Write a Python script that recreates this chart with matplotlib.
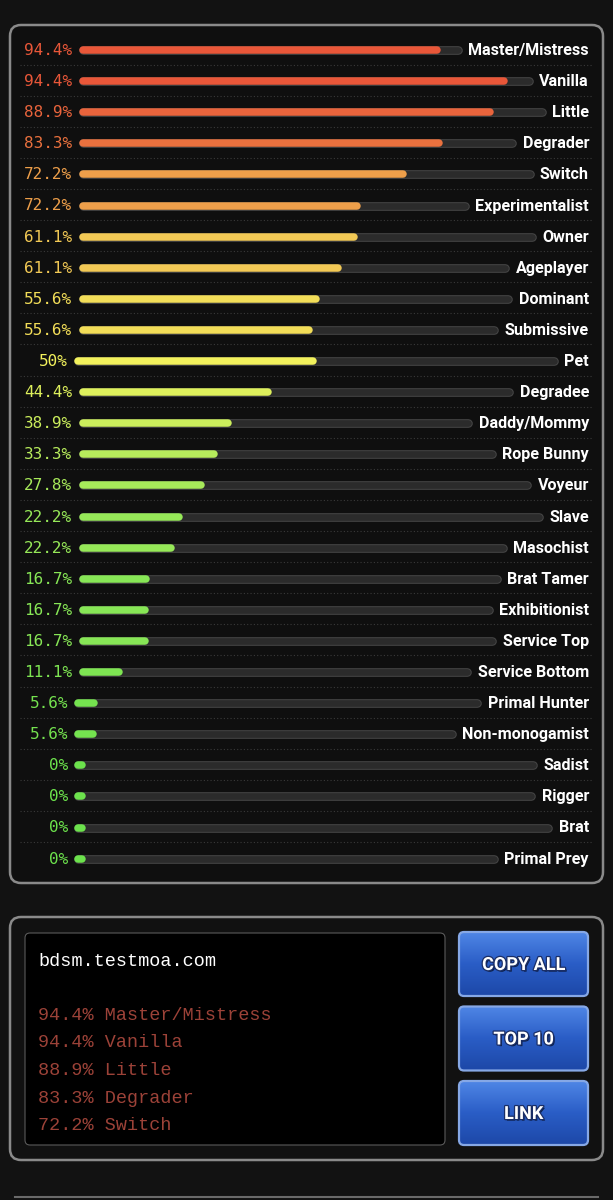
import matplotlib
matplotlib.use('Agg')
import matplotlib.pyplot as plt
import matplotlib.patheffects as pe
from matplotlib.patches import FancyBboxPatch
from matplotlib.colors import LinearSegmentedColormap
import numpy as np

categories = ['Master/Mistress', 'Vanilla', 'Little', 'Degrader', 'Switch',
              'Experimentalist', 'Owner', 'Ageplayer', 'Dominant', 'Submissive',
              'Pet', 'Degradee', 'Daddy/Mommy', 'Rope Bunny', 'Voyeur', 'Slave',
              'Masochist', 'Brat Tamer', 'Exhibitionist', 'Service Top',
              'Service Bottom', 'Primal Hunter', 'Non-monogamist', 'Sadist',
              'Rigger', 'Brat', 'Primal Prey']
percents = [94.4, 94.4, 88.9, 83.3, 72.2, 72.2, 61.1, 61.1, 55.6, 55.6, 50,
            44.4, 38.9, 33.3, 27.8, 22.2, 22.2, 16.7, 16.7, 16.7, 11.1, 5.6,
            5.6, 0, 0, 0, 0]
site = 'bdsm.testmoa.com'
copy_count = 5
buttons = ['COPY ALL', 'TOP 10', 'LINK']

W, H = 613, 1200
score_cmap = LinearSegmentedColormap.from_list('score', [
    (0.0, '#6ce24c'), (0.17, '#88e656'), (0.33, '#b6ec5c'), (0.5, '#f2f25c'),
    (0.56, '#f2dc58'), (0.61, '#f2ca55'), (0.72, '#eea04a'), (0.83, '#ea723e'),
    (1.0, '#e84a37')])

fig = plt.figure(figsize=(W / 100, H / 100), dpi=100, facecolor='#121212')
ax = fig.add_axes([0, 0, 1, 1])
ax.set_xlim(0, W)
ax.set_ylim(H, 0)
ax.axis('off')
renderer = fig.canvas.get_renderer()

# results panel
ax.add_patch(FancyBboxPatch((10, 25), 593, 858, boxstyle='round,pad=0,rounding_size=11',
                            fc='#0f0f0f', ec='#8a8a8a', lw=1.8, zorder=1))

row_y = 49 + 31.1 * np.arange(len(categories))
for i, (name, p) in enumerate(zip(categories, percents)):
    y = row_y[i]
    c = score_cmap(p / 100)
    if i < len(categories) - 1:
        ax.plot([20, 593], [y + 15.5, y + 15.5], color='#3a3a3a', lw=0.8,
                ls=(0, (1, 2)), zorder=2)

    pt = ax.text(0, y, f'{p:g}%', family='DejaVu Sans Mono', fontsize=11.5,
                 color=c, ha='right', va='center_baseline', zorder=4)
    w = pt.get_window_extent(renderer).width
    lab_right = 24 + max(w, 44)
    pt.set_x(lab_right)
    start = lab_right + 7

    nt = ax.text(589, y, name, family='Roboto', fontweight='bold', fontsize=11.6,
                 color='white', ha='right', va='center_baseline', zorder=4)
    end = nt.get_window_extent(renderer).x0 - 7

    r = 3.4
    ax.plot([start + r, end - r], [y + 1, y + 1], color='#474747', lw=6.2,
            solid_capstyle='round', zorder=2)
    ax.plot([start + r, end - r], [y + 1, y + 1], color='#2b2b2b', lw=4.8,
            solid_capstyle='round', zorder=2)
    fill = max(p / 100 * (end - start), 10)
    ax.plot([start + r, start + fill - r], [y + 1, y + 1], color=c, lw=5.4,
            solid_capstyle='round', zorder=3)

# copy panel
ax.add_patch(FancyBboxPatch((10, 917), 593, 243, boxstyle='round,pad=0,rounding_size=11',
                            fc='#111111', ec='#8a8a8a', lw=1.8, zorder=1))
ax.add_patch(FancyBboxPatch((25, 933), 420, 212, boxstyle='round,pad=0,rounding_size=5',
                            fc='#000000', ec='#5a5a5a', lw=0.8, zorder=2))
ax.text(38, 959, site, family='Liberation Mono', fontsize=13.3, color='white',
        va='center_baseline', zorder=4)
for k in range(copy_count):
    ax.text(38, 1013 + 27.7 * k, f'{percents[k]:g}% {categories[k]}',
            family='Liberation Mono', fontsize=13.3, color='#9c4238',
            va='center_baseline', zorder=4)

grad = np.linspace(0, 1, 100).reshape(-1, 1)
btn_cmap = LinearSegmentedColormap.from_list('btn', ['#4f86e6', '#2a5dc6', '#1d48a8'])
for j, label in enumerate(buttons):
    by = 932 + 74.5 * j
    box = FancyBboxPatch((459, by), 129, 64, boxstyle='round,pad=0,rounding_size=5',
                         fc='none', ec='#86a8e6', lw=1.6, zorder=4)
    ax.add_patch(box)
    im = ax.imshow(grad, cmap=btn_cmap, extent=(459, 588, by + 64, by), aspect='auto',
                   zorder=3)
    im.set_clip_path(box)
    ax.text(523.5, by + 33, label, family='Roboto', fontweight='bold', fontsize=13,
            color='white', ha='center', va='center', zorder=5,
            path_effects=[pe.withSimplePatchShadow(offset=(1.2, -1.2), shadow_rgbFace='#0a1a40',
                                                   alpha=0.9),
                          pe.withStroke(linewidth=1.8, foreground='#1a2e66')])

ax.plot([15, 598], [1197, 1197], color='#6a6a6a', lw=1.5, zorder=1)
ax.set_xlim(0, W)
ax.set_ylim(H, 0)

fig.savefig('out.png', dpi=100, facecolor=fig.get_facecolor())
